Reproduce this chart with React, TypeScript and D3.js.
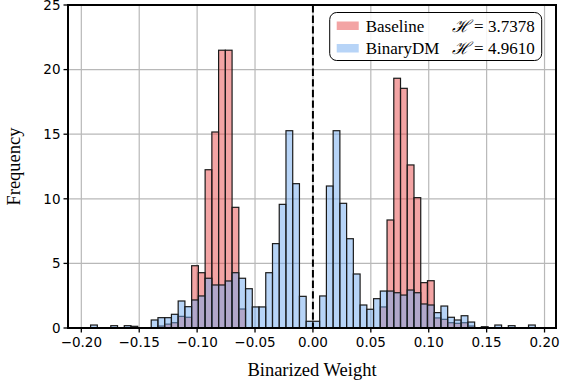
import React from 'react';
import * as d3 from 'd3';

// histogram bins: 66 bins spanning [-0.192, 0.192]
const binMin = -0.192;
const binMax = 0.192;
const binCount = 66;

const baseline = [
    0, 0, 0, 0, 0, 0, 0, 0, 0, 0,
    0.15, 0.3, 0.41, 0.9, 0.83, 4.82, 4.28, 12.25, 15.17, 21.5,
    21.5, 9.34, 1.47, 0, 0, 0, 0, 0, 0, 0,
    0, 0, 0, 0, 0, 0, 0, 0, 0, 0,
    0, 0, 0, 1.63, 8.36, 19.33, 18.55, 12.62, 10.09, 3.51,
    3.66, 0.78, 0.67, 0.41, 0.36, 0.41, 0.15, 0, 0, 0,
    0, 0, 0, 0, 0, 0
];

const binaryDM = [
    0.23, 0, 0, 0.18, 0, 0.18, 0.13, 0, 0, 0.62,
    0.8, 0.8, 1.06, 2.09, 1.65, 2.17, 2.48, 3.85, 3.33, 3.33,
    3.64, 4.28, 3.85, 3.04, 1.63, 1.63, 4.28, 6.53, 9.57, 15.27,
    11.17, 2.45, 0.52, 0.52, 2.48, 10.99, 15.27, 9.65, 6.91, 4.18,
    1.78, 1.45, 2.27, 2.86, 2.86, 2.73, 2.55, 2.94, 2.73, 1.86,
    1.78, 1.19, 1.70, 0.83, 0.62, 0.95, 0.46, 0, 0.1, 0,
    0.23, 0, 0.18, 0, 0, 0.23
];

const xTicks = [-0.2, -0.15, -0.1, -0.05, 0, 0.05, 0.1, 0.15, 0.2];
const yTicks = [0, 5, 10, 15, 20, 25];

const seriesNames = ['Baseline', 'BinaryDM'];
const entropies = ['3.7378', '4.9610'];
const colors = ['#e84a4a', '#6fa9ef'];

const width = 562;
const height = 383;
const margin = { top: 5, right: 6, bottom: 55, left: 68 };

const App = () => {
    const plotW = width - margin.left - margin.right;
    const plotH = height - margin.top - margin.bottom;

    const xScale = d3.scaleLinear().domain([-0.2115, 0.2099]).range([0, plotW]);
    const yScale = d3.scaleLinear().domain([0, 25]).range([plotH, 0]);

    const binW = (binMax - binMin) / binCount;
    const bins = (vals: number[]) => vals.map((v, i) => ({ x0: binMin + i * binW, x1: binMin + (i + 1) * binW, v }));

    const fmt = (d: number) => {
        const s = d3.format('.2f')(Math.abs(d));
        return d < 0 ? '\u2212' + s : s;
    };

    const serif = '"Liberation Serif", "Times New Roman", serif';
    const sans = '"DejaVu Sans", sans-serif';

    return (
        <svg width={width} height={height} style={{ position: 'absolute', left: 0, top: 0 }}>
            <rect width={width} height={height} fill="#fff" />
            <g transform={`translate(${margin.left}, ${margin.top})`}>
                {/* grid */}
                {xTicks.map(t => (
                    <line key={'gx' + t} x1={xScale(t)} x2={xScale(t)} y1={0} y2={plotH} stroke="#b8b8b8" strokeWidth={1.2} />
                ))}
                {yTicks.map(t => (
                    <line key={'gy' + t} x1={0} x2={plotW} y1={yScale(t)} y2={yScale(t)} stroke="#b8b8b8" strokeWidth={1.2} />
                ))}

                {[baseline, binaryDM].map((vals, si) => (
                    <g key={'s' + si}>
                        {bins(vals).filter(b => b.v > 0).map((b, i) => (
                            <rect key={i}
                                x={xScale(b.x0)}
                                y={yScale(b.v)}
                                width={xScale(b.x1) - xScale(b.x0)}
                                height={yScale(0) - yScale(b.v)}
                                fill={colors[si]}
                                fillOpacity={0.5}
                                stroke="#1a1a1a"
                                strokeWidth={1.2} />
                        ))}
                    </g>
                ))}

                {/* dashed zero line */}
                <line x1={xScale(0)} x2={xScale(0)} y1={0} y2={plotH} stroke="#000" strokeWidth={2} strokeDasharray="7.4,3.2" />

                {/* spines */}
                <rect x={0} y={0} width={plotW} height={plotH} fill="none" stroke="#000" strokeWidth={2} />

                {/* x axis */}
                {xTicks.map(t => (
                    <g key={'xt' + t} transform={`translate(${xScale(t)}, ${plotH})`}>
                        <line y1={0} y2={4.5} stroke="#000" strokeWidth={1.3} />
                        <text y={19} textAnchor="middle" fontFamily={sans} fontSize={13.5}>{fmt(t)}</text>
                    </g>
                ))}
                {/* y axis */}
                {yTicks.map(t => (
                    <g key={'yt' + t} transform={`translate(0, ${yScale(t)})`}>
                        <line x1={0} x2={-4.5} stroke="#000" strokeWidth={1.3} />
                        <text x={-7.5} dy="0.36em" textAnchor="end" fontFamily={sans} fontSize={13.5}>{t}</text>
                    </g>
                ))}

                <text x={plotW / 2 + 0} y={plotH + 48} textAnchor="middle" fontFamily={serif} fontSize={18.5}>Binarized Weight</text>
                <text transform={`translate(${-48}, ${plotH / 2}) rotate(-90)`} textAnchor="middle" fontFamily={serif} fontSize={18.5}>Frequency</text>

                {/* legend */}
                <g transform={`translate(${xScale(0.0145)}, 7.5)`}>
                    <rect x={0} y={0} width={212} height={48} rx={7} fill="#fff" fillOpacity={0.85} stroke="#000" strokeWidth={1} />
                    {seriesNames.map((name, i) => (
                        <g key={name} transform={`translate(0, ${i * 22.5})`}>
                            <rect x={7} y={9} width={22} height={8.5} fill={colors[i]} fillOpacity={0.5} />
                            <text x={36} y={19} fontFamily={serif} fontSize={17}>{name}</text>
                            <text x={205} y={19} textAnchor="end" fontFamily={serif} fontSize={17}>
                                <tspan fontFamily='"DejaVu Serif", serif' fontStyle="italic">{'\u210B'}</tspan>
                                {' = ' + entropies[i]}
                            </text>
                        </g>
                    ))}
                </g>
            </g>
        </svg>
    );
};

export default App;
